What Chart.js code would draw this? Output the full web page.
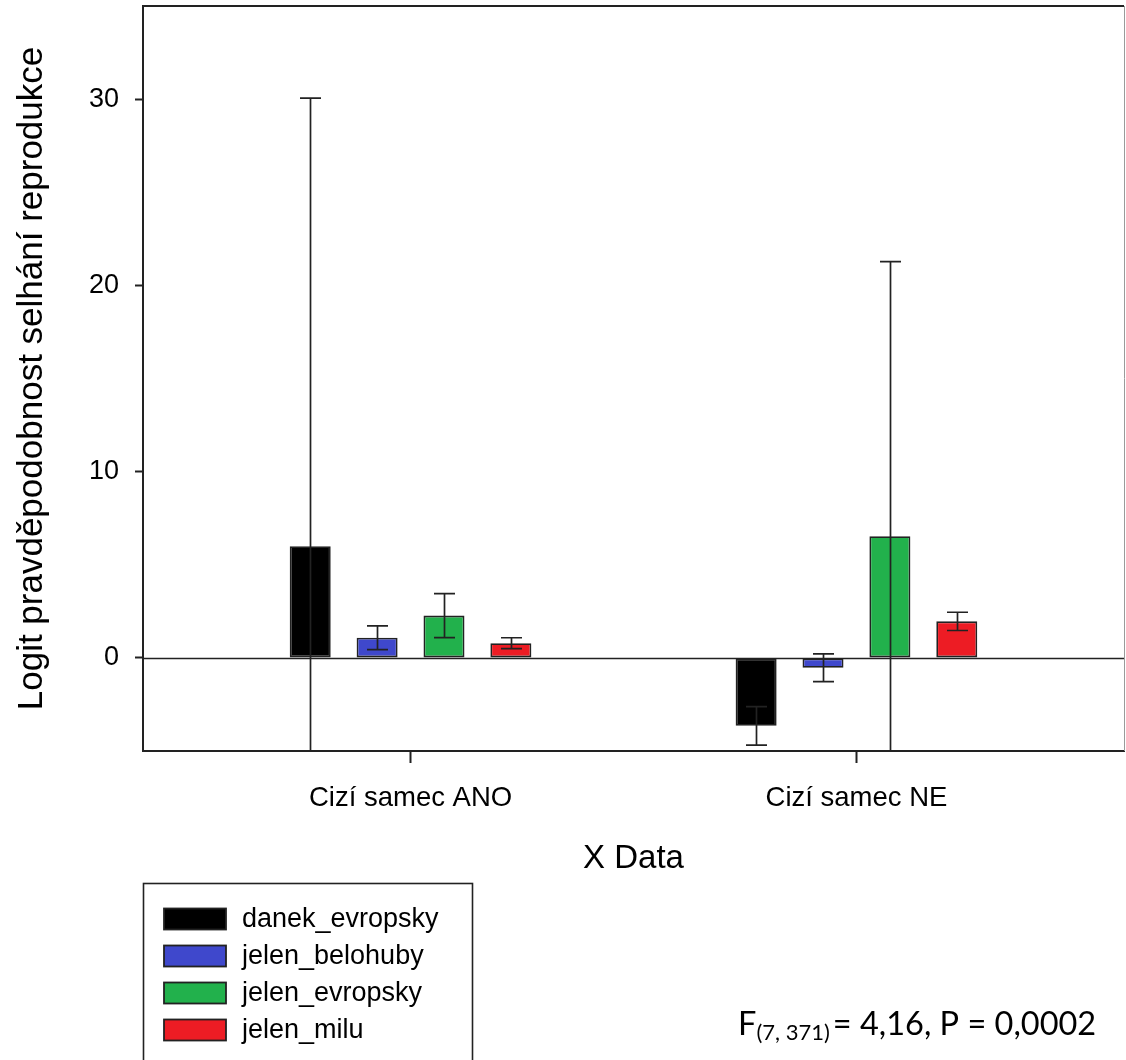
<!DOCTYPE html>
<html>
<head>
<meta charset="utf-8">
<script src="https://cdn.jsdelivr.net/npm/chart.js@4/dist/chart.umd.min.js"></script>
<style>
  html, body { margin: 0; padding: 0; background: #ffffff; }
  #wrap { width: 1126px; height: 1060px; position: relative; }
</style>
</head>
<body>
<div id="wrap"><canvas id="c" width="1126" height="1060"></canvas></div>
<script>
// Groups on the x axis
const categories = ['Cizí samec ANO', 'Cizí samec NE'];
// Species (one bar series each)
const species = ['danek_evropsky', 'jelen_belohuby', 'jelen_evropsky', 'jelen_milu'];
// Mean logit per group: [ANO, NE]
const danekEvropskyMean = [6.0, -3.65];
const jelenBelohubyMean = [1.08, -0.53];
const jelenEvropskyMean = [2.27, 6.53];
const jelenMiluMean = [0.79, 1.96];
// Error half-widths per group: [ANO, NE]
const danekEvropskyErr = [24.05, 1.03];
const jelenBelohubyErr = [0.64, 0.74];
const jelenEvropskyErr = [1.18, 14.75];
const jelenMiluErr = [0.29, 0.49];
// Y axis tick labels
const yTicks = [0, 10, 20, 30];

const seriesMeans = [danekEvropskyMean, jelenBelohubyMean, jelenEvropskyMean, jelenMiluMean];
const seriesErrs = [danekEvropskyErr, jelenBelohubyErr, jelenEvropskyErr, jelenMiluErr];
const seriesColors = ['#000000', '#3F48CC', '#22B14C', '#ED1C24'];

const SANS = '"Liberation Sans", Arial, sans-serif';
const INK = '#222222';

// Zero reference line across the plot
const zeroLine = {
  id: 'zeroLine',
  beforeDatasetsDraw(chart) {
    const { ctx, chartArea: a, scales: { y } } = chart;
    const py = Math.round(y.getPixelForValue(0)) + 0.5;
    ctx.save();
    ctx.strokeStyle = INK;
    ctx.lineWidth = 1.6;
    ctx.beginPath();
    ctx.moveTo(a.left, py);
    ctx.lineTo(a.right, py);
    ctx.stroke();
    ctx.restore();
  }
};

// Vertical error bars with caps, clipped to the plot area
const errorBars = {
  id: 'errorBars',
  afterDatasetsDraw(chart) {
    const { ctx, chartArea: a, scales: { y } } = chart;
    ctx.save();
    ctx.beginPath();
    ctx.rect(a.left, a.top, a.right - a.left, a.bottom - a.top);
    ctx.clip();
    ctx.strokeStyle = INK;
    ctx.lineWidth = 1.7;
    const capHalf = 10.5;
    chart.data.datasets.forEach((ds, di) => {
      const meta = chart.getDatasetMeta(di);
      meta.data.forEach((bar, i) => {
        const m = seriesMeans[di][i];
        const e = seriesErrs[di][i];
        const x = Math.round(bar.x) + 0.5;
        const yHi = y.getPixelForValue(m + e);
        const yLo = y.getPixelForValue(m - e);
        ctx.beginPath();
        ctx.moveTo(x, yHi);
        ctx.lineTo(x, yLo);
        ctx.moveTo(x - capHalf, yHi);
        ctx.lineTo(x + capHalf, yHi);
        ctx.moveTo(x - capHalf, yLo);
        ctx.lineTo(x + capHalf, yLo);
        ctx.stroke();
      });
    });
    ctx.restore();
  }
};

// Top and right frame lines
const frame = {
  id: 'frame',
  afterDraw(chart) {
    const { ctx, chartArea: a } = chart;
    ctx.save();
    ctx.strokeStyle = INK;
    ctx.lineWidth = 2;
    ctx.beginPath();
    ctx.moveTo(a.left - 1, a.top);
    ctx.lineTo(a.right, a.top);
    ctx.stroke();
    ctx.strokeStyle = '#9a9a9a';
    ctx.lineWidth = 1;
    ctx.beginPath();
    ctx.moveTo(a.right + 0.5, a.top);
    ctx.lineTo(a.right + 0.5, a.bottom);
    ctx.stroke();
    ctx.restore();
  }
};

// Boxed legend below the plot
const boxLegend = {
  id: 'boxLegend',
  afterDraw(chart) {
    const { ctx } = chart;
    const left = 143.5, top = 883.5, width = 329;
    ctx.save();
    ctx.strokeStyle = INK;
    ctx.lineWidth = 1.6;
    ctx.strokeRect(left, top, width, 200);
    ctx.font = '27px ' + SANS;
    ctx.textBaseline = 'middle';
    ctx.textAlign = 'left';
    chart.data.datasets.forEach((ds, i) => {
      const rowTop = 908.5 + i * 37;
      ctx.fillStyle = ds.backgroundColor;
      ctx.fillRect(164, rowTop, 62, 21);
      ctx.strokeStyle = INK;
      ctx.lineWidth = 1.8;
      ctx.strokeRect(164, rowTop, 62, 21);
      ctx.fillStyle = '#000000';
      ctx.fillText(ds.label, 242, rowTop + 11);
    });
    ctx.restore();
  }
};

// Test statistic annotation
const statNote = {
  id: 'statNote',
  afterDraw(chart) {
    const { ctx } = chart;
    const big = '32.5px Lato, "Open Sans", sans-serif';
    const small = '22px Lato, "Open Sans", sans-serif';
    ctx.save();
    ctx.fillStyle = '#000000';
    ctx.textBaseline = 'alphabetic';
    ctx.textAlign = 'left';
    let x = 738;
    ctx.font = big;
    ctx.fillText('F', x, 1035);
    x += ctx.measureText('F').width;
    ctx.font = small;
    ctx.fillText('(7, 371)', x, 1040);
    x += ctx.measureText('(7, 371)').width + 3;
    ctx.font = big;
    ctx.fillText('= 4,16, P = 0,0002', x, 1035);
    ctx.restore();
  }
};

const datasets = species.map((name, si) => ({
  label: name,
  data: seriesMeans[si].map((v, ci) => ({ x: ci + 1, y: v })),
  backgroundColor: seriesColors[si],
  borderColor: INK,
  borderWidth: 1.8,
  borderSkipped: false,
  categoryPercentage: 0.6,
  barPercentage: 0.613
}));

new Chart(document.getElementById('c'), {
  type: 'bar',
  data: { datasets },
  options: {
    responsive: false,
    devicePixelRatio: 1,
    animation: false,
    layout: { padding: { top: 6, right: 2, left: 0, bottom: 180 } },
    plugins: { legend: { display: false }, tooltip: { enabled: false } },
    scales: {
      x: {
        type: 'linear',
        min: 0.4,
        max: 2.6,
        offset: false,
        afterBuildTicks: s => { s.ticks = categories.map((_, i) => ({ value: i + 1 })); },
        afterFit: s => { s.height = 129; s.paddingLeft = 0; s.paddingRight = 0; },
        ticks: {
          callback: v => categories[v - 1] ?? '',
          font: { family: SANS, size: 27.5 },
          color: '#000000',
          padding: 19,
          maxRotation: 0,
          autoSkip: false
        },
        grid: { drawOnChartArea: false, drawTicks: true, tickLength: 12, tickColor: INK, tickWidth: 2, offset: false },
        border: { display: true, color: INK, width: 2 },
        title: { display: true, text: 'X Data', font: { family: SANS, size: 33 }, color: '#000000', padding: { top: 0, bottom: 1 } }
      },
      y: {
        min: -5,
        max: 35,
        afterBuildTicks: s => { s.ticks = yTicks.map(v => ({ value: v })); },
        afterFit: s => { s.width = 143; s.paddingTop = 0; s.paddingBottom = 0; },
        ticks: { font: { family: SANS, size: 27 }, color: '#000000', padding: 16 },
        grid: { drawOnChartArea: false, drawTicks: true, tickLength: 8, tickColor: INK, tickWidth: 2 },
        border: { display: true, color: INK, width: 2 },
        title: { display: true, text: 'Logit pravděpodobnost selhání reprodukce', font: { family: SANS, size: 35 }, color: '#000000', padding: { top: 11, bottom: 0 } }
      }
    }
  },
  plugins: [zeroLine, errorBars, frame, boxLegend, statNote]
});
</script>
</body>
</html>
